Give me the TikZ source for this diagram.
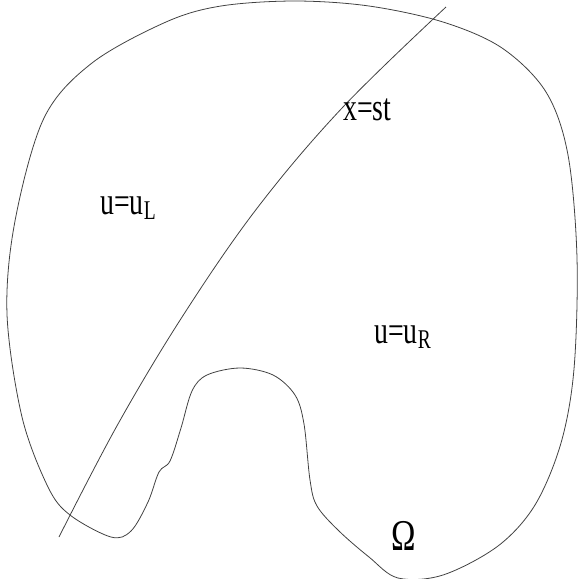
\documentclass[tikz,border=0pt]{standalone}
\usepackage{fontspec}
\setmainfont{Liberation Serif}
\usetikzlibrary{positioning}

\begin{document}
\begin{tikzpicture}[
    x=0.02cm, y=-0.02cm,
    bound/.style={draw=black!75, line width=0.45pt},
    shock/.style={draw=black!75, line width=0.45pt},
    lbl/.style={inner sep=0pt, anchor=base west, xscale=0.72, font=\fontsize{22}{26}\selectfont},
    omg/.style={inner sep=0pt, anchor=base west, xscale=0.75, font=\fontsize{25}{28}\selectfont}
]
    \useasboundingbox (0,0) rectangle (578,579);

    % Rand des Gebiets
    \draw[bound] plot[smooth cycle, tension=0.55] coordinates {
        (295,1) (369,6) (443,22) (502,48) (546,92) (568,155) (577,258)
        (574,369) (561,443) (535,505) (498,546) (443,575) (398,578)
        (369,557) (339,531) (317,506) (310,480) (304,424) (295,395)
        (273,375) (240,368) (207,375) (192,391) (181,428) (170,461)
        (159,472) (148,502) (131,531) (111,537) (70,515) (48,487)
        (22,417) (7,314) (15,221) (44,118) (92,63) (166,22) (221,6)};

    % Stosskurve
    \draw[shock] plot[smooth, tension=0.6] coordinates {
        (59,537) (118,424) (184,314) (258,207) (343,107) (446,7)};

    % Beschriftungen
    \node[lbl] (st) at (343,120) {x=st};
    \node[lbl] (uL) at (100,214) {u=u\textsubscript{L}};
    \node[lbl] (uR) at (374,343) {u=u\textsubscript{R}};
    \node[omg] (om) at (391,550) {Ω};

\end{tikzpicture}
\end{document}
